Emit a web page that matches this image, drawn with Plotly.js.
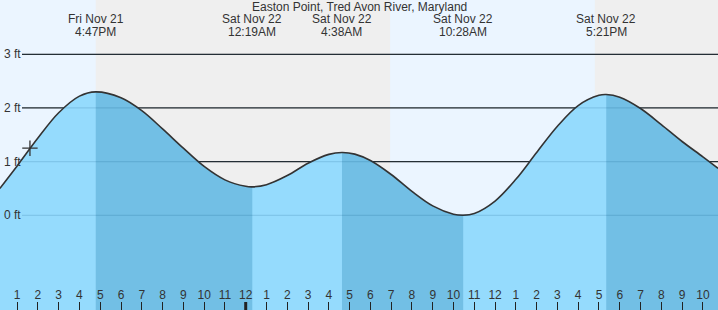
<!DOCTYPE html>
<html>
<head>
<meta charset="utf-8">
<script src="https://cdn.plot.ly/plotly-3.0.1.min.js"></script>
<style>html,body{margin:0;padding:0;background:#fff;}#chart{width:718px;height:310px;}</style>
</head>
<body>
<div id="chart"></div>
<script>
// ---- data ----
var stationName = 'Easton Point, Tred Avon River, Maryland';
var viewStart = '2025-11-21 12:10:34';
var viewEnd = '2025-11-22 22:43:40';

var tideTimes = [
  '2025-11-21 12:10','2025-11-21 13:00','2025-11-21 14:00','2025-11-21 15:00','2025-11-21 16:00',
  '2025-11-21 16:47','2025-11-21 18:00','2025-11-21 19:00','2025-11-21 20:00','2025-11-21 21:00',
  '2025-11-21 22:00','2025-11-21 23:00','2025-11-22 00:00','2025-11-22 00:19','2025-11-22 01:00',
  '2025-11-22 02:00','2025-11-22 03:00','2025-11-22 04:00','2025-11-22 04:38','2025-11-22 05:15',
  '2025-11-22 06:00','2025-11-22 07:00','2025-11-22 08:00','2025-11-22 09:00','2025-11-22 10:00',
  '2025-11-22 10:28','2025-11-22 11:00','2025-11-22 12:00','2025-11-22 13:00','2025-11-22 14:00',
  '2025-11-22 15:00','2025-11-22 16:00','2025-11-22 17:00','2025-11-22 17:21','2025-11-22 18:00',
  '2025-11-22 19:00','2025-11-22 20:00','2025-11-22 21:00','2025-11-22 22:00','2025-11-22 22:44'
];
var tideFeet = [
  0.50, 0.92, 1.44, 1.91, 2.22,
  2.30, 2.19, 1.95, 1.61, 1.25,
  0.91, 0.66, 0.54, 0.53, 0.57,
  0.74, 0.97, 1.135, 1.17, 1.14,
  1.02, 0.76, 0.445, 0.175, 0.02,
  0.00, 0.033, 0.265, 0.67, 1.17,
  1.66, 2.045, 2.235, 2.25, 2.20,
  1.99, 1.69, 1.375, 1.09, 0.875
];

var eventTimes = ['2025-11-21 16:47','2025-11-22 00:19','2025-11-22 04:38','2025-11-22 10:28','2025-11-22 17:21'];
var eventDayLabels = ['Fri Nov 21','Sat Nov 22','Sat Nov 22','Sat Nov 22','Sat Nov 22'];
var eventTimeLabels = ['4:47PM','12:19AM','4:38AM','10:28AM','5:21PM'];
var eventTypes = ['high','low','high','low','high'];

var daylightStarts = ['2025-11-21 12:10:34','2025-11-22 06:57'];
var daylightEnds = ['2025-11-21 16:47','2025-11-22 16:48'];

var nowTime = ['2025-11-21 13:37'];
var nowFeet = [1.25];

var yTickVals = [0, 1, 2, 3];
var yTickText = ['0 ft', '1 ft', '2 ft', '3 ft'];
var midnightTime = '2025-11-22 00:00';

// ---- helpers ----
function ms(s){
  var p = s.split(/[- :]/).map(Number);
  return Date.UTC(p[0], p[1]-1, p[2], p[3]||0, p[4]||0, p[5]||0);
}
var T0 = ms(viewStart), T1 = ms(viewEnd);
function frac(s){ return (ms(s)-T0)/(T1-T0); }

var yMin = -1.7645, yMax = 4.0116;
var FONT = '"Liberation Sans", Arial, sans-serif';
var TXT = '#333';
var LIGHT = '#95dbfd';
var DARK = '#72bfe5';
var SMOOTH = 1;

// falling segments: from each high to the following low (or view end)
var falling = [];
for (var i=0;i<eventTimes.length;i++){
  if (eventTypes[i]==='high'){
    var endT = (i+1<eventTimes.length) ? eventTimes[i+1] : viewEnd;
    falling.push([eventTimes[i], endT]);
  }
}

var traces = [];
// light fill over the whole view (xy)
traces.push({x:[viewStart, viewEnd], y:[yMin-1, yMin-1], xaxis:'x', yaxis:'y', mode:'lines', line:{width:0}, hoverinfo:'skip', showlegend:false});
traces.push({x:tideTimes, y:tideFeet, xaxis:'x', yaxis:'y', mode:'lines', line:{width:0, shape:'spline', smoothing:SMOOTH}, fill:'tonexty', fillcolor:LIGHT, hoverinfo:'skip', showlegend:false});

var layout = {
  width:718, height:310,
  margin:{l:0,r:0,t:0,b:0,pad:0},
  paper_bgcolor:'#ffffff', plot_bgcolor:'rgba(0,0,0,0)',
  showlegend:false,
  font:{family:FONT, size:12, color:TXT},
  xaxis:{type:'date', range:[viewStart, viewEnd], domain:[0,1], anchor:'y', visible:false, fixedrange:true},
  yaxis:{range:[yMin, yMax], anchor:'x', showticklabels:false, ticks:'',
    showgrid:false, zeroline:false, showline:false, fixedrange:true},
  shapes:[], annotations:[]
};

// dark fills on clipped sub-axes
falling.forEach(function(seg, k){
  var ax = 'x'+(k+2);
  layout['xaxis'+(k+2)] = {type:'date', range:[seg[0], seg[1]], domain:[frac(seg[0]), frac(seg[1])], anchor:'y', visible:false, fixedrange:true};
  traces.push({x:[viewStart, viewEnd], y:[yMin-1, yMin-1], xaxis:ax, yaxis:'y', mode:'lines', line:{width:0}, hoverinfo:'skip', showlegend:false});
  traces.push({x:tideTimes, y:tideFeet, xaxis:ax, yaxis:'y', mode:'lines', line:{width:0, shape:'spline', smoothing:SMOOTH}, fill:'tonexty', fillcolor:DARK, hoverinfo:'skip', showlegend:false});
});

// curve line + visible time axis on top
var topAx = falling.length+2;
layout['xaxis'+topAx] = {type:'date', range:[viewStart, viewEnd], domain:[0,1], anchor:'y',
    tick0:'2025-11-21 00:00', dtick:3600000, tickformat:'%-I',
    ticks:'inside', ticklen:8, tickwidth:1, tickcolor:'#222',
    ticklabelposition:'inside', tickfont:{family:FONT, size:12, color:TXT},
    showgrid:false, zeroline:false, showline:false, fixedrange:true};
traces.push({x:tideTimes, y:tideFeet, xaxis:'x'+topAx, yaxis:'y', mode:'lines', line:{width:1.6, color:'#333', shape:'spline', smoothing:SMOOTH}, hoverinfo:'skip', showlegend:false});
traces.push({x:nowTime, y:nowFeet, xaxis:'x'+topAx, yaxis:'y', mode:'markers', marker:{symbol:'cross-thin', size:11, line:{width:1.3, color:'#333'}}, hoverinfo:'skip', showlegend:false});

// day / night background
layout.shapes.push({type:'rect', xref:'x', yref:'paper', x0:viewStart, x1:viewEnd, y0:0, y1:1, fillcolor:'#efefef', line:{width:0}, layer:'below'});
for (var d=0; d<daylightStarts.length; d++){
  layout.shapes.push({type:'rect', xref:'x', yref:'paper', x0:daylightStarts[d], x1:daylightEnds[d], y0:0, y1:1, fillcolor:'#ebf5ff', line:{width:0}, layer:'below'});
}
// level lines and their labels
yTickVals.forEach(function(v, j){
  layout.shapes.push({type:'line', xref:'paper', yref:'y', x0:22/718, x1:1, y0:v, y1:v, line:{color:'#2a2a2a', width:1.3}, layer:'below'});
  layout.shapes.push({type:'line', xref:'paper', yref:'y', x0:22/718, x1:1, y0:v, y1:v, line:{color:'rgba(0,70,120,0.14)', width:1.3}, layer:'above'});
  layout.annotations.push({text:yTickText[j], xref:'paper', yref:'y', x:2/718, y:v, xanchor:'left', yanchor:'middle', showarrow:false, font:{family:FONT, size:12, color:TXT}});
});
// midnight marker tick
layout.shapes.push({type:'line', xref:'x', yref:'paper', x0:midnightTime, x1:midnightTime, y0:0, y1:8/310, line:{color:'#222', width:3}, layer:'above'});

// title and event labels
layout.annotations.push({text:stationName, xref:'paper', yref:'paper', x:0.5, y:1-7.5/310, yanchor:'middle', xanchor:'center', showarrow:false, font:{family:FONT, size:12, color:TXT}});
for (var e=0;e<eventTimes.length;e++){
  layout.annotations.push({text:eventDayLabels[e], xref:'x', yref:'paper', x:eventTimes[e], y:1-19.5/310, yanchor:'middle', xanchor:'center', showarrow:false, font:{family:FONT, size:12, color:TXT}});
  layout.annotations.push({text:eventTimeLabels[e], xref:'x', yref:'paper', x:eventTimes[e], y:1-32/310, yanchor:'middle', xanchor:'center', showarrow:false, font:{family:FONT, size:12, color:TXT}});
}

Plotly.newPlot('chart', traces, layout, {staticPlot:true, displayModeBar:false});
</script>
</body>
</html>
